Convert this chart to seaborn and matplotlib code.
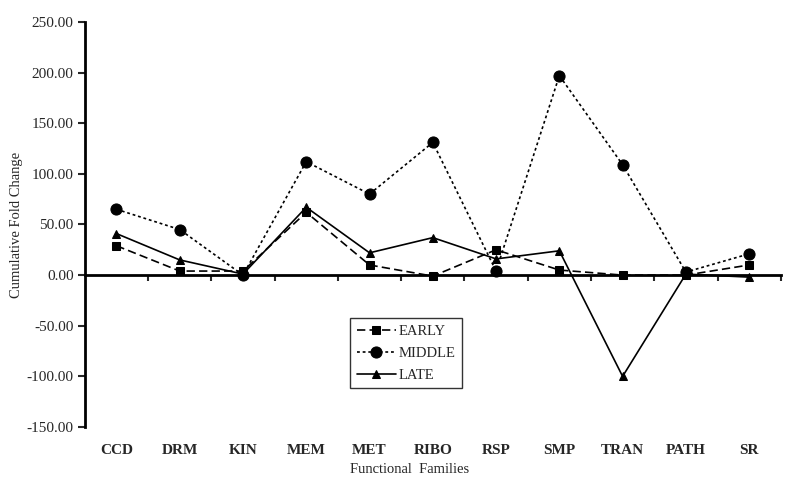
import matplotlib
matplotlib.use("Agg")
import matplotlib.pyplot as plt
import pandas as pd
import seaborn as sns
from matplotlib.ticker import FormatStrFormatter

# values
families = ["CCD", "DRM", "KIN", "MEM", "MET", "RIBO", "RSP", "SMP", "TRAN", "PATH", "SR"]
early = [29, 4, 4, 62, 10, -1, 25, 5, 0, 0, 10]
middle = [65, 45, 0, 112, 80, 131, 4, 197, 109, 3, 21]
late = [41, 15, 1, 67, 22, 37, 16, 24, -100, 1, -2]
stages = ["EARLY", "MIDDLE", "LATE"]
y_ticks = [-150, -100, -50, 0, 50, 100, 150, 200, 250]

sns.set_style("white")
plt.rcParams["font.family"] = ["Liberation Serif", "DejaVu Serif"]

df = pd.DataFrame({"pos": range(len(families)), "EARLY": early, "MIDDLE": middle, "LATE": late})
long_df = df.melt(id_vars="pos", value_vars=stages, var_name="stage", value_name="fold")

fig = plt.figure(figsize=(8, 4.94), dpi=100)
ax = fig.add_axes([0.106, 0.1356, 0.870, 0.820])

sns.lineplot(data=long_df, x="pos", y="fold", hue="stage", style="stage",
             hue_order=stages, style_order=stages,
             palette=["black"] * 3,
             markers={"EARLY": "s", "MIDDLE": "o", "LATE": "^"},
             dashes={"EARLY": (5, 2.5), "MIDDLE": (1.7, 1.7), "LATE": ""},
             linewidth=1.2, markeredgecolor="black", legend=False, ax=ax)

sizes = {"s": 5.5, "o": 8, "^": 6}
for line in ax.lines[:3]:
    line.set_markersize(sizes.get(line.get_marker(), 6))

ax.set_xlim(-0.5, len(families) - 0.5)
ax.set_ylim(-150, 250)
ax.set_yticks(y_ticks)
ax.yaxis.set_major_formatter(FormatStrFormatter("%.2f"))
ax.tick_params(axis="y", direction="out", length=5, width=1.5, labelsize=11, pad=3, left=True)

# zero line acting as x axis, ticks between the categories
for s in ["top", "right"]:
    ax.spines[s].set_visible(False)
ax.spines["bottom"].set_position(("data", 0))
ax.spines["left"].set_linewidth(2)
ax.spines["bottom"].set_linewidth(2)
ax.spines["left"].set_color("black")
ax.spines["bottom"].set_color("black")
ax.set_xticks([p + 0.5 for p in range(len(families))])
ax.set_xticklabels([])
ax.tick_params(axis="x", direction="out", length=4, width=1.5, bottom=True)
ax.set_xlabel("Functional  Families", fontsize=10.5)
ax.xaxis.set_label_coords(0.467, -0.089)
ax.set_ylabel("Cumulative Fold Change", fontsize=10.5, labelpad=3)

lab = ax.secondary_xaxis("bottom")
lab.set_xticks(range(len(families)))
lab.set_xticklabels(families, fontweight="bold", fontsize=11)
lab.tick_params(length=0, pad=12)
lab.spines["bottom"].set_visible(False)

leg = ax.legend(ax.lines[:3], stages, loc="upper left",
                bbox_to_anchor=(0.4375, 0.356), bbox_transform=fig.transFigure,
                borderaxespad=0, frameon=True, fancybox=False, fontsize=10.5,
                handlelength=2.7, handletextpad=0.2, labelspacing=0.6, borderpad=0.45)
leg.get_frame().set_edgecolor("black")
leg.get_frame().set_linewidth(1)

fig.savefig("out.png", dpi=100)
